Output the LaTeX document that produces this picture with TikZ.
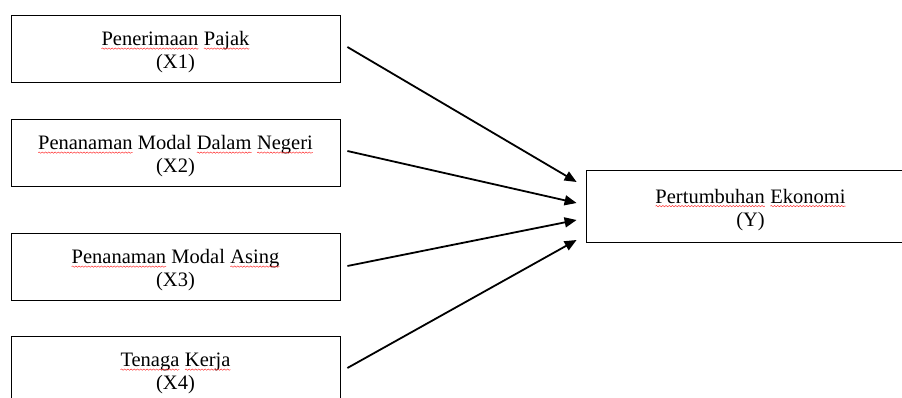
\documentclass[tikz,border=0pt]{standalone}
\usepackage{fontspec}
\setmainfont{Liberation Serif}
\usetikzlibrary{arrows.meta,decorations.pathmorphing}
% red wavy line under a word
\newcommand{\wavy}[1]{\tikz[baseline=(w.base)]{\node[inner sep=0pt,outer sep=0pt,minimum width=0pt,minimum height=0pt,text height=,text depth=,draw=none](w){#1};
    \draw[red!85,line width=0.45pt,decorate,decoration={snake,amplitude=0.65pt,segment length=3.2pt}] ([yshift=-2.8pt]w.base west) -- ([yshift=-2.8pt]w.base east);}}
\begin{document}
\begin{tikzpicture}[x=1pt,y=-1pt,
    box/.style={draw, line width=0.8pt, minimum width=329pt, minimum height=67pt, inner sep=0pt, text height=45pt, align=center, font=\fontsize{20.5}{23}\selectfont},
    link/.style={->, line width=1.8pt, >={Triangle[length=12pt,width=10pt]}}]
          \useasboundingbox (0,0) rectangle (902,398);
          \clip (0,0) rectangle (902,398);
          \draw (175.5,48.5) node[box](X1){\wavy{Penerimaan} \wavy{Pajak}\\(X1)} ;
          \draw (175.5,152.5) node[box](X2){\wavy{Penanaman} Modal \wavy{Dalam} \wavy{Negeri}\\(X2)} ;
          \draw (175.5,266.5) node[box](X3){\wavy{Penanaman} Modal \wavy{Asing}\\(X3)} ;
          \draw (175.5,369.5) node[box](X4){\wavy{Tenaga} \wavy{Kerja}\\(X4)} ;
          \draw (750.5,206) node[box,minimum height=72pt](Y){\wavy{Pertumbuhan} \wavy{Ekonomi}\\(Y)} ;
          \draw[link] ([xshift=7pt,yshift=1.5pt]X1.east) -- ([xshift=-9pt,yshift=24pt]Y.west);
          \draw[link] ([xshift=7pt,yshift=1.5pt]X2.east) -- ([xshift=-9pt,yshift=3pt]Y.west);
          \draw[link] ([xshift=7pt,yshift=0.5pt]X3.east) -- ([xshift=-9pt,yshift=-14pt]Y.west);
          \draw[link] ([xshift=7pt,yshift=1.5pt]X4.east) -- ([xshift=-9pt,yshift=-34pt]Y.west);
        \end{tikzpicture}
\end{document}
